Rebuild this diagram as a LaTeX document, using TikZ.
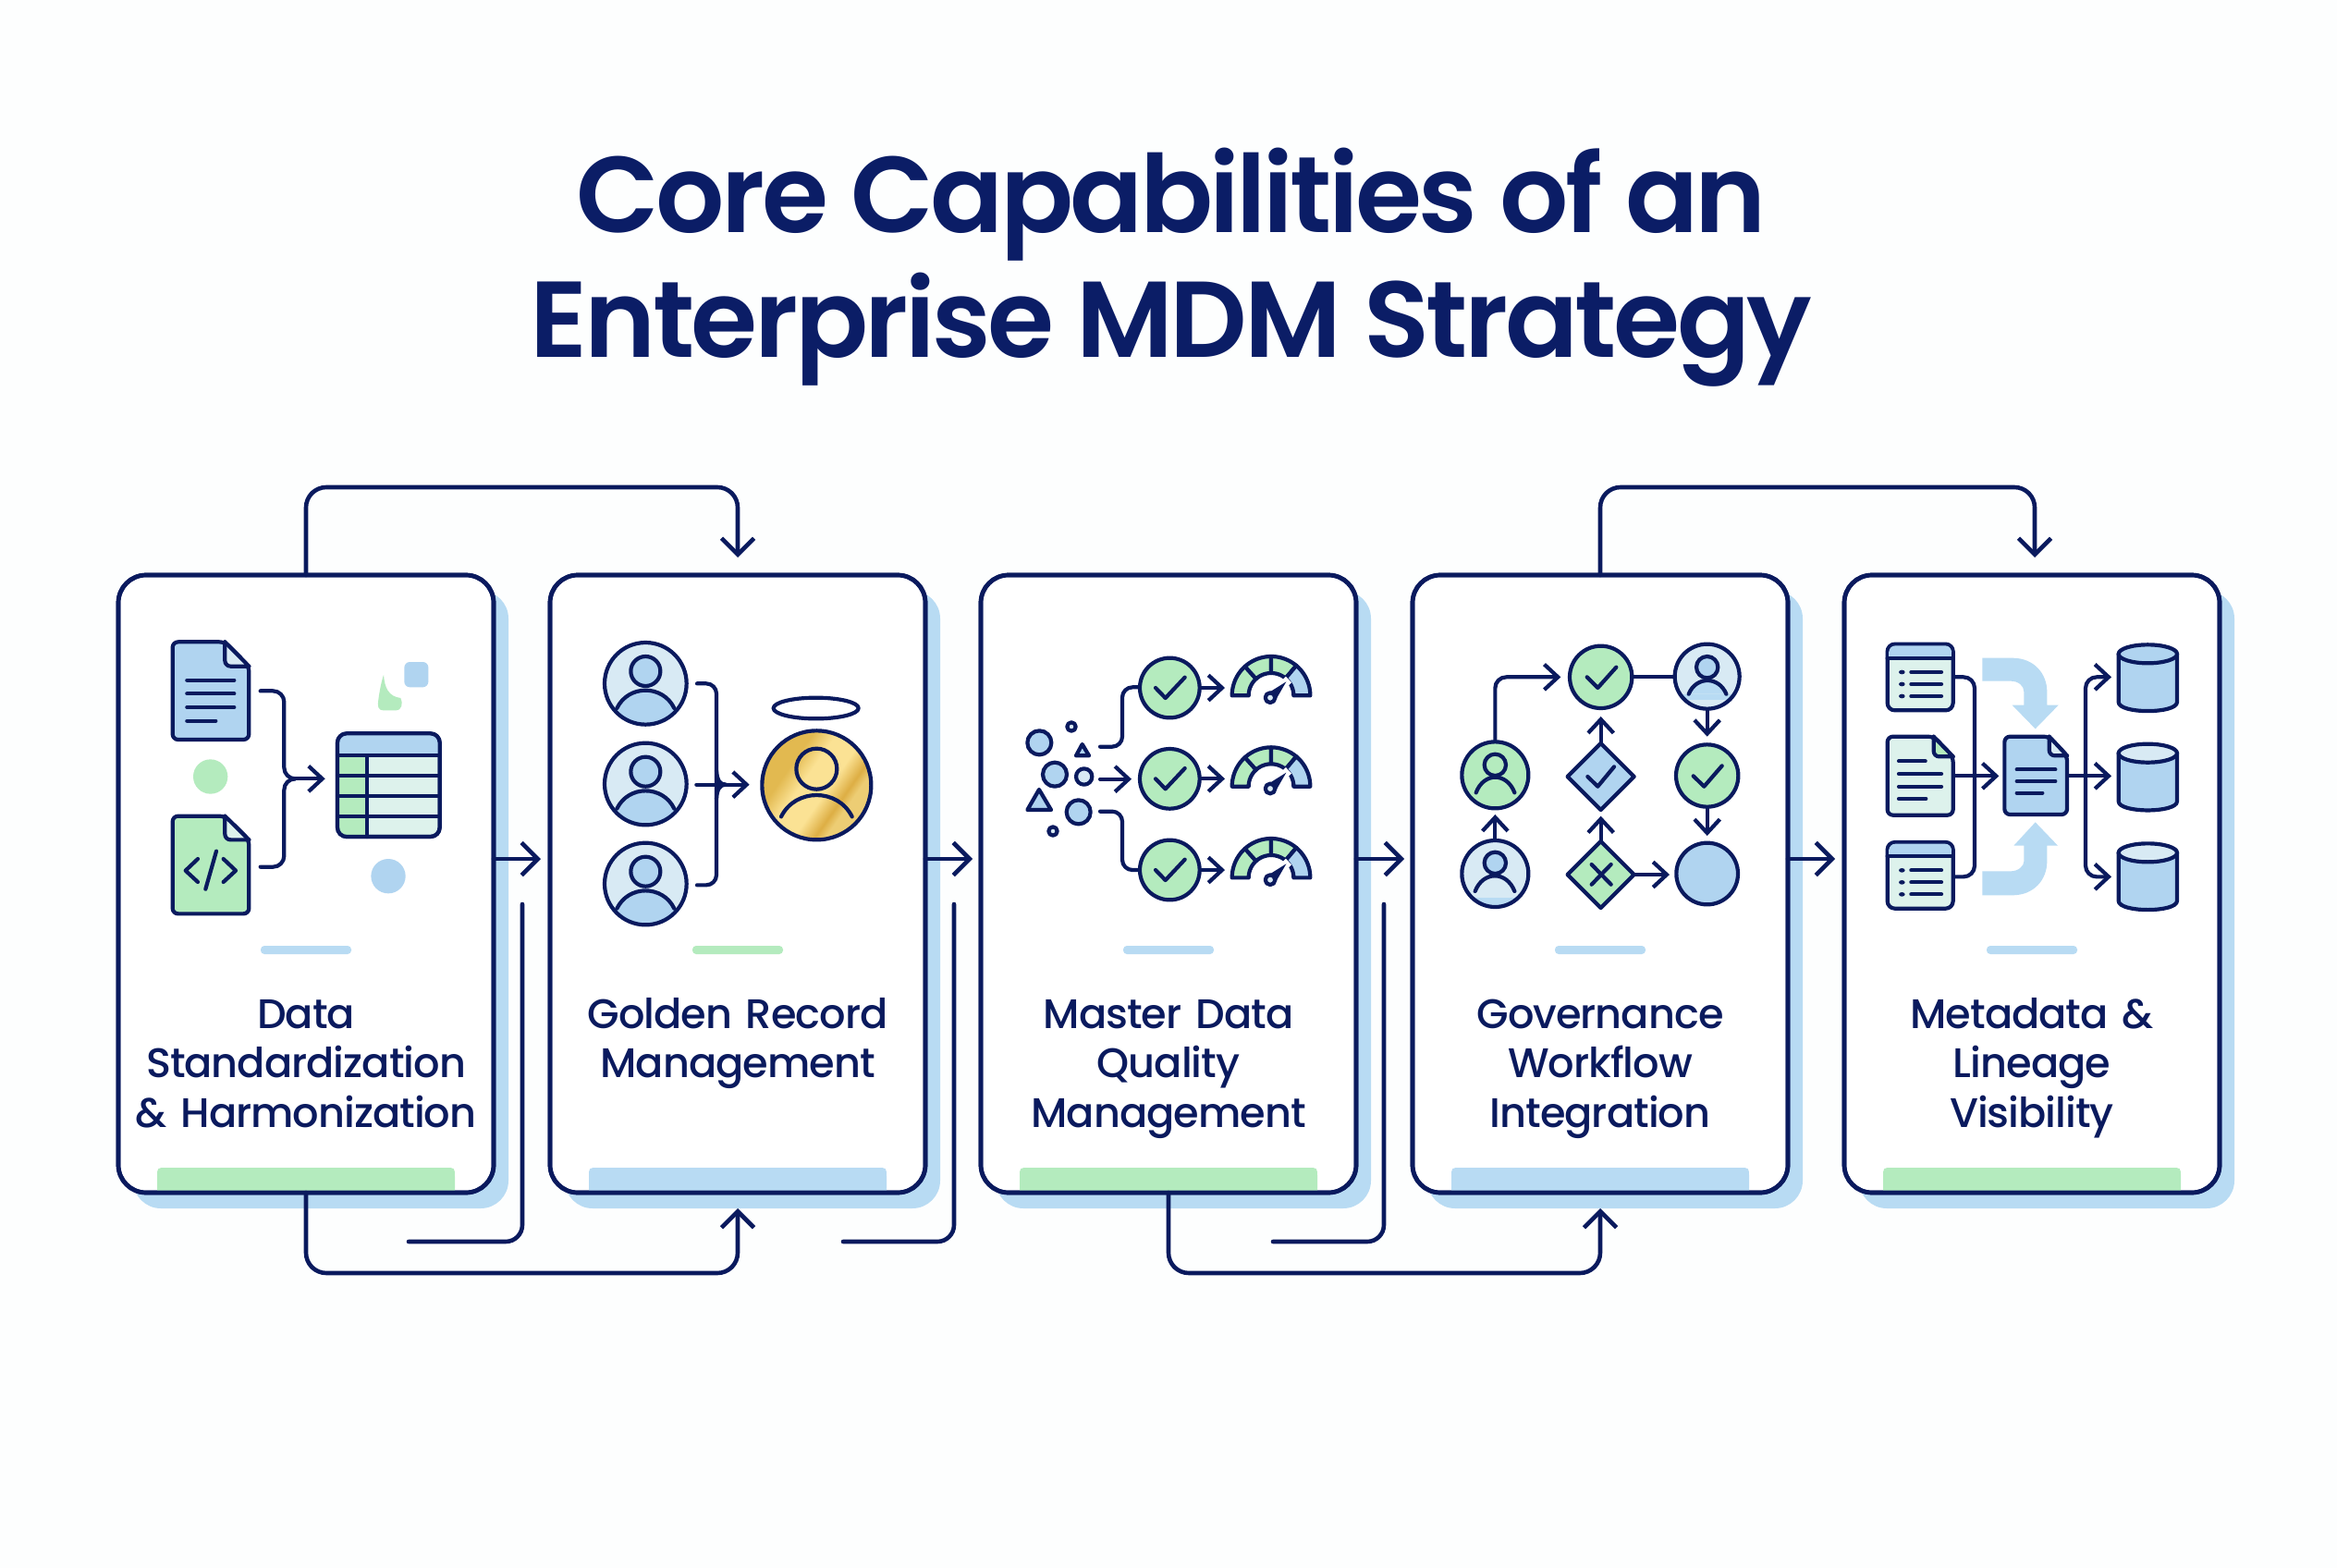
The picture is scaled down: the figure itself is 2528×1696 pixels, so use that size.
\documentclass[tikz,border=0pt]{standalone}
\usepackage{fontspec}
\usetikzlibrary{arrows.meta,calc}
\newfontfamily\titlefont[LetterSpace=-3.0]{Poppins SemiBold}
\newfontfamily\labelfont[LetterSpace=-2.2]{Poppins Medium}
\definecolor{navy}{HTML}{0A1A5E}
\definecolor{titlec}{HTML}{0B1D66}
\definecolor{sblue}{HTML}{B8DBF3}
\definecolor{iblue}{HTML}{B0D4F0}
\definecolor{igreen}{HTML}{B4EBBE}
\definecolor{pale}{HTML}{D8EAF4}
\definecolor{paleg}{HTML}{DDF2EC}
\definecolor{bgc}{HTML}{FDFEFE}
\definecolor{goldA}{HTML}{E2B950}
\definecolor{goldB}{HTML}{FBE294}
\definecolor{goldC}{HTML}{DDAE44}
\definecolor{goldD}{HTML}{EDCD74}
\pgfdeclarehorizontalshading{goldsh}{100bp}{color(0bp)=(goldA); color(35bp)=(goldA); color(44bp)=(goldB); color(55bp)=(goldB); color(63bp)=(goldC); color(67bp)=(goldD); color(100bp)=(goldD)}
\tikzset{
  cardbox/.style={draw=navy,line width=.47mm,fill=white,rounded corners=3mm,minimum width=40.6mm,minimum height=66.8mm,inner sep=0pt,outer sep=0pt},
  shadowbox/.style={fill=sblue,rounded corners=3mm,minimum width=40.6mm,minimum height=66.8mm,inner sep=0pt,outer sep=0pt},
  flow/.style={draw=navy,line width=.46mm,line cap=round,line join=round,-{Straight Barb[length=5pt,width=10pt]}},
  flowline/.style={draw=navy,line width=.46mm,line cap=round,line join=round},
  cardlabel/.style={font=\labelfont\fontsize{12.7pt}{15.36pt}\selectfont,text=navy,anchor=base,text width=45mm,align=center,inner sep=0pt},
  titletext/.style={font=\titlefont\fontsize{33.2pt}{38.4pt}\selectfont,text=titlec,anchor=base,inner sep=0pt},
  zoomed/.style={x=.033333mm,y=-.033333mm},
  ic/.style={draw=navy,line width=.42mm,line cap=round,line join=round},
  ar/.style={ic,-{Straight Barb[length=4.2pt,width=7.8pt]}},
}
% band along the foot of a card; #1 card left, #2 colour
\newcommand\footband[2]{\begin{scope}[shift={(#1,0)}]
  \fill[#2] (42,1288) -- (42,1273) .. controls (42,1263) and (42,1263) .. (52,1263) -- (354,1263) .. controls (364,1263) and (364,1263) .. (364,1273) -- (364,1288) -- cycle;
  \end{scope}}
% short bar above the label; #1 card left, #2 colour
\newcommand\midbar[2]{\begin{scope}[shift={(#1,0)}]
  \fill[#2,rounded corners=.4mm] (154,1023) rectangle (252,1032);
  \end{scope}}
\newcommand\docicon[8]{%l r t b foldx foldy fill foldfill
  \filldraw[ic,fill=#7,rounded corners=.6mm] (#1,#4) -- (#1,#3) -- (#5,#3) -- (#2,#6) -- (#2,#4) -- cycle;
  \fill[#8] (#5,#3) -- (#5,#6) -- (#2,#6) -- cycle;
  \draw[ic,rounded corners=.6mm] (#5,#3) -- (#5,#6) -- (#2,#6);
  \draw[ic] (#5,#3) -- (#2,#6);
}
\newcommand\chk[6]{\draw[ic] (#1,#2) -- (#3,#4) -- (#5,#6);}
\newcommand\shoulder[4]{(#1,#3) .. controls ({#1+.2*(#2-#1)},{#4-(#3-#4)/3}) and ({#2-.2*(#2-#1)},{#4-(#3-#4)/3}) .. (#2,#3)}
% card-two source person: #1 y offset
\newcommand\srcperson[1]{\begin{scope}[shift={(0,#1)}]
  \fill[pale] (325,418) circle (133);
  \begin{scope}
    \clip (325,418) circle (133);
    \fill[iblue] \shoulder{232}{418}{500}{440} -- (418,560) -- (232,560) -- cycle;
  \end{scope}
  \filldraw[ic,fill=iblue] (325,378) circle (48);
  \draw[ic] \shoulder{232}{418}{498}{440};
  \draw[ic] (325,418) circle (133);
  \end{scope}}
\newcommand\gseg[3]{\filldraw[ic,fill=#3] plot[domain=#1:#2,samples=14] ({945+127*cos(\x)},{457-127*sin(\x)}) -- plot[domain=#2:#1,samples=14] ({945+73*cos(\x)},{457-73*sin(\x)}) -- cycle;}
\newcommand\gaugeicon[1]{\begin{scope}[shift={(0,#1)}]
  \draw[ar] (712,432) -- (795,432);
  \filldraw[ic,fill=igreen] (616,432) circle (97);
  \chk{570}{432}{602}{465}{665}{398}
  \gseg{180}{132}{igreen}
  \gseg{132}{90}{igreen}
  \gseg{90}{50}{igreen}
  \gseg{50}{0}{iblue}
  \draw[white,line width=.9mm] (950,455) -- (1002,405);
  \fill[navy] (930,452) -- (994,412) -- (956,478) -- cycle;
  \filldraw[ic,fill=pale] (942,464) circle (16);
  \end{scope}}
\newcommand\listwindow[1]{\begin{scope}[shift={(0,#1)}]
  \filldraw[ic,fill=paleg,rounded corners=.8mm] (125,290) rectangle (338,505);
  \fill[iblue,rounded corners=.7mm] (130,295) rectangle (333,333);
  \fill[iblue] (130,315) rectangle (333,333);
  \draw[ic] (125,335) -- (338,335);
  \foreach \yy in {381,420,459} {\fill[navy] (172,\yy) ellipse (10 and 7); \draw[ic] (202,\yy) -- (300,\yy);}
  \end{scope}}
\newcommand\cylinder[2]{\begin{scope}[shift={(0,#1)}]
  \filldraw[ic,fill=iblue] (875,322) -- (875,478) .. controls (875,517) and (1065,517) .. (1065,478) -- (1065,322) -- cycle;
  \filldraw[ic,fill=#2] (970,322) ellipse (95 and 30);
  \end{scope}}
\begin{document}
\begin{tikzpicture}[x=.1mm,y=-.1mm]
\useasboundingbox (0,0) rectangle (2528,1696);
\fill[bgc] (0,0) rectangle (2528,1696);
% title
\node[titletext] (t1) at (1267,252) {Core Capabilities of an};
\node[titletext] (t2) at (1267,387) {Enterprise MDM Strategy};
% shadows and cards
\foreach \nn/\xx in {1/331,2/798,3/1264,4/1731,5/2198} {
  \node[shadowbox] (s\nn) at ({\xx+16},973) {};
  \node[cardbox] (c\nn) at (\xx,956) {};
}
\footband{128}{igreen}\footband{595}{sblue}\footband{1061}{igreen}\footband{1528}{sblue}\footband{1995}{igreen}
\midbar{128}{sblue}\midbar{595}{igreen}\midbar{1061}{sblue}\midbar{1528}{sblue}\midbar{1995}{sblue}
\foreach \nn in {1,...,5} {\node[cardbox,fill=none] at (c\nn) {};}
% labels
\node[cardlabel] (l1) at (331,1112) {Data\\Standardization\\\& Harmonization};
\node[cardlabel] (l2) at (798,1112) {Golden Record\\Management};
\node[cardlabel] (l3) at (1264,1112) {Master Data\\Quality\\Management};
\node[cardlabel] (l4) at (1731,1112) {Governance\\Workflow\\Integration};
\node[cardlabel] (l5) at (2198,1112) {Metadata \&\\Lineage\\Visibility};
% loops over the top
\draw[flow,rounded corners=2.2mm] (c1.north) -- ($(c1.north)+(0,-95)$) -- ($(c2.north)+(0,-95)$) -- ($(c2.north)+(0,-19)$);
\draw[flow,rounded corners=2.2mm] (c4.north) -- ($(c4.north)+(0,-95)$) -- ($(c5.north)+(3,-95)$) -- ($(c5.north)+(3,-19)$);
% loops under the foot
\draw[flow,rounded corners=2.2mm] (c1.south) -- ($(c1.south)+(0,87)$) -- ($(c2.south)+(0,87)$) -- ($(c2.south)+(0,17)$);
\draw[flow,rounded corners=2.2mm] (c3.south) -- ($(c3.south)+(0,87)$) -- ($(c4.south)+(0,87)$) -- ($(c4.south)+(0,17)$);
% forward arrows
\draw[flow] ([yshift=2.7mm]c1.east) -- ++(51,0);
\draw[flow] ([yshift=2.7mm]c2.east) -- ++(51,0);
\draw[flow] ([yshift=2.7mm]c3.east) -- ++(52,0);
\draw[flow] ([yshift=2.7mm]c4.east) -- ++(51,0);
% return lines
\coordinate (r1a) at (442,1343); \coordinate (r1b) at (565,978);
\coordinate (r2a) at (912,1343); \coordinate (r2b) at (1032,978);
\coordinate (r3a) at (1377,1343); \coordinate (r3b) at (1497,978);
\draw[flowline,rounded corners=1.8mm] (r1a) -| (r1b);
\draw[flowline,rounded corners=1.8mm] (r2a) -| (r2b);
\draw[flowline,rounded corners=1.8mm] (r3a) -| (r3b);

% ---------- card 1 icons
\begin{scope}[shift={(110,600)},zoomed]
  \docicon{230}{478}{283}{600}{400}{362}{iblue}{pale}
  \foreach \yy in {407,451,495} {\draw[ic] (277,\yy) -- (430,\yy);}
  \draw[ic] (277,539) -- (370,539);
  \docicon{230}{478}{848}{1165}{400}{925}{igreen}{paleg}
  \draw[ic] (312,987) -- (272,1025) -- (312,1062);
  \draw[ic] (372,962) -- (337,1085);
  \draw[ic] (395,987) -- (435,1025) -- (395,1062);
  \fill[igreen] (353,720) circle (56);
  \fill[iblue] (930,1043) circle (56);
  \fill[iblue,rounded corners=.6mm] (982,348) rectangle (1060,430);
  \fill[igreen] (915,390) .. controls (918,430) and (930,460) .. (970,465) .. controls (978,480) and (975,505) .. (955,505) -- (915,505) .. controls (895,505) and (895,490) .. (898,470) .. controls (902,440) and (908,410) .. (915,390) -- cycle;
  \draw[ic,rounded corners=1.2mm] (515,442) -- (592,442) -- (592,727) -- (625,727);
  \draw[ic,rounded corners=1.2mm] (515,1013) -- (592,1013) -- (592,727) -- (625,727);
  \draw[ar] (620,727) -- (725,727);
  \filldraw[ic,fill=paleg,rounded corners=1mm] (765,580) rectangle (1097,915);
  \begin{scope}
    \clip[rounded corners=1mm] (765,580) rectangle (1097,915);
    \fill[iblue] (765,580) rectangle (1097,652);
    \fill[igreen] (765,652) rectangle (860,915);
  \end{scope}
  \draw[ic,rounded corners=1mm] (765,580) rectangle (1097,915);
  \foreach \yy in {652,718,783,848} {\draw[ic] (765,\yy) -- (1097,\yy);}
  \draw[ic] (860,652) -- (860,915);
\end{scope}

% ---------- card 2 icons
\begin{scope}[shift={(590,600)},zoomed]
  \srcperson{0}\srcperson{326}\srcperson{650}
  \draw[ic,rounded corners=1.1mm] (492,418) -- (555,418) -- (555,1072) -- (492,1072);
  \draw[ic] (555,700) .. controls (557,730) and (565,746) .. (585,746);
  \draw[ic] (555,792) .. controls (557,762) and (565,746) .. (585,746);
  \draw[ar] (490,746) -- (662,746);
  \shade[shading=goldsh,shading angle=-35] (880,748) circle (177);
  \draw[ic] (880,748) circle (177);
  \draw[ic] (878,498) ellipse (138 and 34);
  \draw[ic] (880,695) circle (66);
  \draw[ic] \shoulder{765}{995}{850}{780};
\end{scope}

% ---------- card 3 icons
\begin{scope}[shift={(1060,600)},zoomed]
  \filldraw[ic,fill=iblue] (193,610) circle (39);
  \filldraw[ic,fill=iblue] (243,713) circle (39);
  \filldraw[ic,fill=iblue] (320,835) circle (39);
  \filldraw[ic,fill=pale] (338,720) circle (26);
  \filldraw[ic,fill=pale] (297,558) circle (14);
  \filldraw[ic,fill=pale] (237,897) circle (14);
  \filldraw[ic,fill=iblue] (332,615) -- (312,652) -- (354,652) -- cycle;
  \filldraw[ic,fill=iblue] (192,762) -- (154,828) -- (231,828) -- cycle;
  \draw[ic,rounded corners=1.1mm] (390,623) -- (462,623) -- (462,430) -- (520,430);
  \draw[ic,rounded corners=1.1mm] (390,833) -- (462,833) -- (462,1023) -- (520,1023);
  \draw[ar] (390,728) -- (492,728);
  \gaugeicon{0}\gaugeicon{295}\gaugeicon{591}
\end{scope}

% ---------- card 4 icons
\begin{scope}[shift={(1530,600)},zoomed]
  \draw[ar,rounded corners=1.2mm] (262,605) -- (262,397) -- (475,397);
  \draw[ar] (262,925) -- (262,843);
  \draw[ar] (605,612) -- (605,525);
  \draw[ar] (605,930) -- (605,848);
  \draw[ic] (708,397) -- (845,397);
  \draw[ar] (950,500) -- (950,590);
  \draw[ar] (950,820) -- (950,912);
  \draw[ar] (712,1038) -- (828,1038);
  % person on green
  \filldraw[ic,fill=igreen] (262,715) circle (108);
  \draw[ic] (262,682) circle (35);
  \draw[ic] \shoulder{200}{325}{772}{722};
  % person on pale
  \fill[pale] (262,1035) circle (108);
  \begin{scope}
    \clip (262,1035) circle (108);
    \fill[sblue] (150,1112) rectangle (374,1150);
  \end{scope}
  \filldraw[ic,fill=iblue] (262,1000) circle (35);
  \draw[ic] \shoulder{197}{325}{1092}{1042};
  \draw[ic] (262,1035) circle (108);
  % person top right
  \fill[pale] (950,395) circle (105);
  \begin{scope}
    \clip (950,395) circle (105);
    \fill[sblue] (840,452) -- (1060,452) -- (1060,470) -- (840,470) -- cycle;
    \fill[sblue] \shoulder{890}{1012}{452}{408} -- cycle;
  \end{scope}
  \filldraw[ic,fill=iblue] (950,365) circle (35);
  \draw[ic] \shoulder{890}{1012}{452}{408};
  \draw[ic] (950,395) circle (105);
  % checks
  \filldraw[ic,fill=igreen] (605,397) circle (101);
  \chk{560}{397}{595}{432}{655}{365}
  \filldraw[ic,fill=igreen] (950,717) circle (101);
  \chk{905}{718}{940}{752}{998}{685}
  \filldraw[ic,fill=iblue] (950,1035) circle (100);
  % diamonds
  \filldraw[ic,fill=iblue] (605,612) -- (713,720) -- (605,828) -- (497,720) -- cycle;
  \chk{562}{720}{595}{752}{648}{688}
  \filldraw[ic,fill=igreen] (605,930) -- (713,1038) -- (605,1146) -- (497,1038) -- cycle;
  \draw[ic] (575,1005) -- (638,1070);
  \draw[ic] (638,1005) -- (575,1070);
\end{scope}

% ---------- card 5 icons
\begin{scope}[shift={(2000,600)},zoomed]
  \fill[sblue] (433,335) -- (530,335) .. controls (600,335) and (643,385) .. (643,445) -- (643,488) -- (680,488) -- (605,565) -- (530,488) -- (568,488) -- (568,445) .. controls (568,425) and (550,410) .. (525,410) -- (433,410) -- cycle;
  \fill[sblue] (433,1105) -- (530,1105) .. controls (600,1105) and (643,1055) .. (643,995) -- (643,944) -- (678,944) -- (605,868) -- (535,944) -- (568,944) -- (568,995) .. controls (568,1010) and (550,1027) .. (525,1027) -- (433,1027) -- cycle;
  \draw[ic,rounded corners=1.2mm] (340,397) -- (408,397) -- (408,1045) -- (340,1045);
  \draw[ar] (340,718) -- (487,718);
  \draw[ar] (708,718) -- (852,718);
  \draw[ar,rounded corners=1.2mm] (768,718) -- (768,397) -- (852,397);
  \draw[ar,rounded corners=1.2mm] (768,718) -- (768,1045) -- (852,1045);
  \listwindow{0}\listwindow{643}
  \docicon{125}{338}{590}{845}{275}{655}{paleg}{igreen}
  \draw[ic] (162,670) -- (248,670);
  \draw[ic] (162,711) -- (300,711);
  \draw[ic] (162,752) -- (300,752);
  \draw[ic] (162,792) -- (250,792);
  \docicon{505}{708}{590}{843}{650}{652}{iblue}{pale}
  \draw[ic] (545,697) -- (670,697);
  \draw[ic] (545,735) -- (670,735);
  \draw[ic] (545,773) -- (628,773);
  \cylinder{0}{iblue}\cylinder{322}{pale}\cylinder{645}{pale}
\end{scope}
\end{tikzpicture}
\end{document}
